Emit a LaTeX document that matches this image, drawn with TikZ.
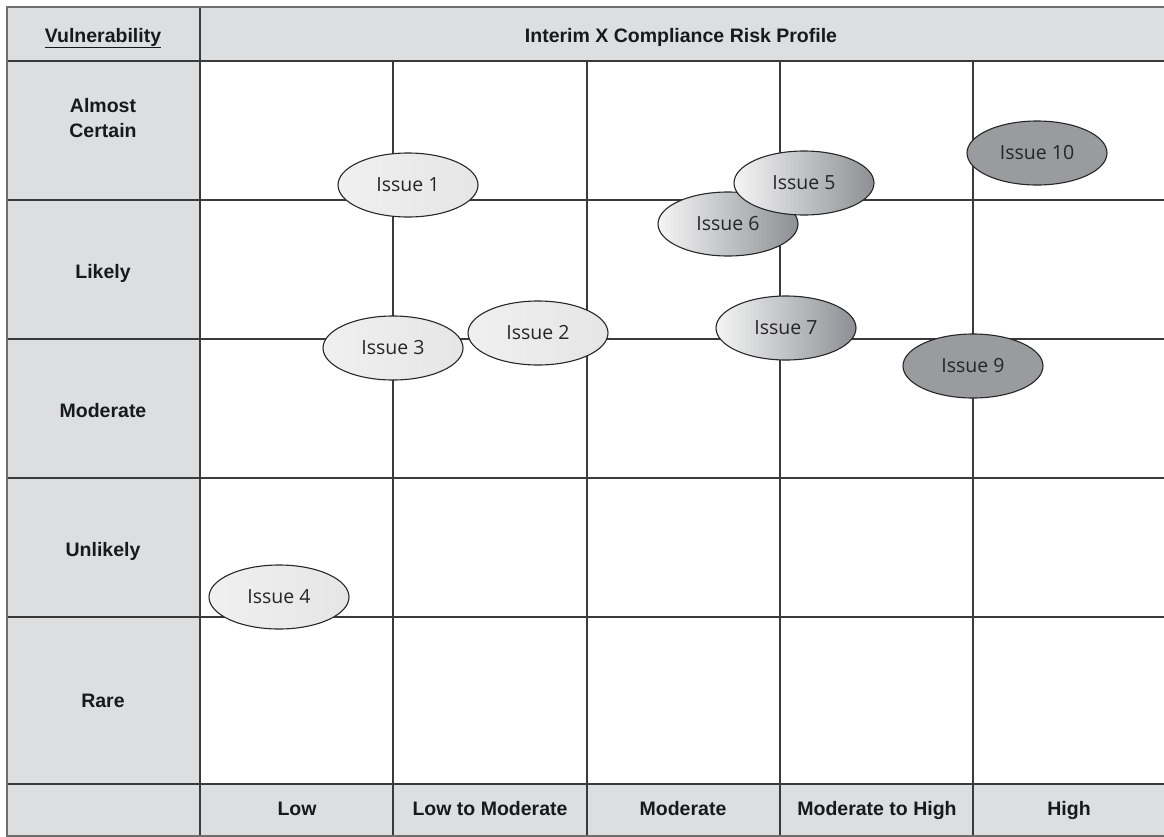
\documentclass[tikz,border=0pt]{standalone}
\usepackage{fontspec}
\setmainfont{Liberation Sans}
\newfontfamily\issuefont{Open Sans}
\usetikzlibrary{shapes.geometric}
\definecolor{hdrgray}{HTML}{DDDEE0}
\definecolor{gridline}{HTML}{3A3A3A}
\definecolor{outerline}{HTML}{6E6E6E}
\definecolor{issuetext}{HTML}{262626}
\definecolor{darkiss}{HTML}{9A9B9F}
\definecolor{gradend}{HTML}{8E8F94}
\tikzset{
  hdrtext/.style={font=\fontsize{19.5}{24.5}\selectfont\bfseries, text=black!90, align=center, inner sep=0pt, anchor=base},
  gridln/.style={draw=gridline, line width=1.5pt},
  issue/.style={ellipse, draw=black!85, line width=1.1pt, minimum width=140pt, minimum height=64pt, inner sep=0pt,
    font=\issuefont\fontsize{19.5}{23}\selectfont, text=issuetext},
  lightiss/.style={issue, left color=white!94!black, right color=white!90!black},
  gradiss/.style={issue, left color=white!96!black, right color=gradend},
  darkissue/.style={issue, fill=darkiss}
}
\begin{document}
\begin{tikzpicture}[x=1pt,y=-1pt]
\useasboundingbox (0,0) rectangle (1164,836);
% header backgrounds
\fill[hdrgray] (7,7) rectangle (1170,61);
\fill[hdrgray] (7,61) rectangle (200,840);
\fill[hdrgray] (200,784) rectangle (1170,840);
% grid
\foreach \yy in {61,200,339,478,617,784} \draw[gridln] (7,\yy) -- (1170,\yy);
\draw[gridln] (200,7) -- (200,840);
\foreach \xx in {393,587,780,973} \draw[gridln] (\xx,61) -- (\xx,840);
% outer border
\draw[draw=outerline, line width=2.2pt] (7,7) rectangle (1165,836);
% headers
\node[hdrtext] (vul) at (103,42) {\underline{Vulnerability}};
\node[hdrtext] (title) at (681,42) {Interim X Compliance Risk Profile};
\node[hdrtext, anchor=center] (r1) at (103,118) {Almost\\Certain};
\node[hdrtext] (r2) at (103,278) {Likely};
\node[hdrtext] (r3) at (103,417) {Moderate};
\node[hdrtext] (r4) at (103,556) {Unlikely};
\node[hdrtext] (r5) at (103,707) {Rare};
\node[hdrtext] (c1) at (297,815) {Low};
\node[hdrtext] (c2) at (490,815) {Low to Moderate};
\node[hdrtext] (c3) at (683,815) {Moderate};
\node[hdrtext] (c4) at (877,815) {Moderate to High};
\node[hdrtext] (c5) at (1069,815) {High};
% issues
\node[lightiss] (i1) at (408,185) {Issue 1};
\node[lightiss] (i3) at (393,348) {Issue 3};
\node[lightiss] (i2) at (538,333) {Issue 2};
\node[lightiss] (i4) at (279,597) {Issue 4};
\node[gradiss] (i6) at (728,224) {Issue 6};
\node[gradiss] (i5) at (804,183) {Issue 5};
\node[gradiss] (i7) at (786,328) {Issue 7};
\node[darkissue] (i9) at (973,366) {Issue 9};
\node[darkissue] (i10) at (1037,153) {Issue 10};
\end{tikzpicture}
\end{document}
